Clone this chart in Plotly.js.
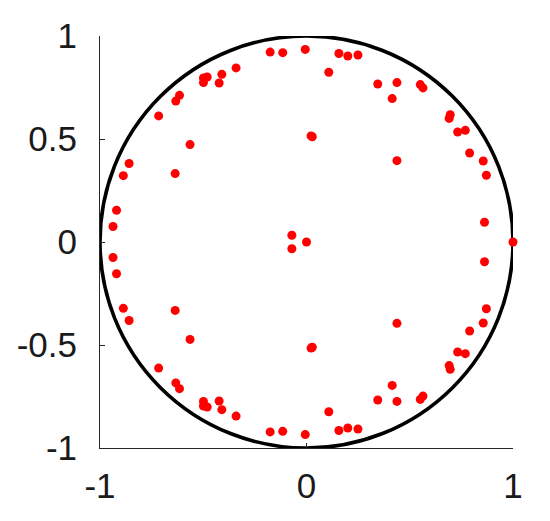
<!DOCTYPE html>
<html>
<head>
<meta charset="utf-8">
<script src="https://cdn.plot.ly/plotly-3.0.1.min.js"></script>
<style>
  html, body { margin: 0; padding: 0; background: #fff; }
  #chart { width: 550px; height: 521px; }
</style>
</head>
<body>
<div id="chart"></div>
<script>
const realUpper = [-0.176, -0.115, -0.006, -0.341, -0.410, -0.423, -0.481, -0.499, -0.499, -0.615,
                   -0.633, -0.716, -0.564, -0.636, -0.859, -0.887, -0.920, -0.937, -0.071, 0.022,
                   0.028, 0.157, 0.200, 0.249, 0.108, 0.345, 0.438, 0.415, 0.551, 0.564,
                   0.696, 0.691, 0.732, 0.769, 0.790, 0.856, 0.871, 0.862, 0.438];
const imagUpper = [0.922, 0.919, 0.935, 0.845, 0.814, 0.772, 0.801, 0.796, 0.774, 0.712,
                   0.684, 0.612, 0.473, 0.332, 0.381, 0.322, 0.154, 0.075, 0.033, 0.515,
                   0.511, 0.915, 0.903, 0.908, 0.824, 0.767, 0.774, 0.696, 0.764, 0.748,
                   0.618, 0.600, 0.534, 0.542, 0.432, 0.393, 0.324, 0.096, 0.395];
const realLower = [-0.176, -0.115, -0.006, -0.341, -0.410, -0.423, -0.481, -0.499, -0.499, -0.615,
                   -0.633, -0.716, -0.564, -0.636, -0.859, -0.887, -0.920, -0.937, -0.071, 0.022,
                   0.028, 0.157, 0.200, 0.249, 0.108, 0.345, 0.438, 0.415, 0.551, 0.564,
                   0.696, 0.691, 0.732, 0.769, 0.790, 0.856, 0.871, 0.862, 0.438];
const imagLower = [-0.922, -0.919, -0.935, -0.845, -0.814, -0.772, -0.801, -0.796, -0.774, -0.712,
                   -0.684, -0.612, -0.473, -0.332, -0.381, -0.322, -0.154, -0.075, -0.033, -0.515,
                   -0.511, -0.915, -0.903, -0.908, -0.824, -0.767, -0.774, -0.696, -0.764, -0.748,
                   -0.618, -0.600, -0.534, -0.542, -0.432, -0.393, -0.324, -0.096, -0.395];
const realAxis = [0, 1];
const imagAxis = [0, 0];

const xTicks = [-1, 0, 1];
const yTicks = [-1, -0.5, 0, 0.5, 1];

const data = [{
    x: realUpper.concat(realLower, realAxis),
    y: imagUpper.concat(imagLower, imagAxis),
    type: 'scatter',
    mode: 'markers',
    marker: { color: '#ff0000', size: 9 },
    cliponaxis: false,
    hoverinfo: 'skip'
}];

const axisStyle = {
    showgrid: false,
    zeroline: false,
    showline: true,
    linecolor: '#262626',
    linewidth: 1,
    ticks: 'inside',
    ticklen: 5,
    tickcolor: '#262626',
    tickfont: { family: 'Liberation Sans, Arial, sans-serif', size: 35, color: '#1a1a1a' },
    mirror: false
};

const layout = {
    width: 550,
    height: 521,
    margin: { l: 100, r: 37, t: 36, b: 73 },
    paper_bgcolor: '#fff',
    plot_bgcolor: '#fff',
    showlegend: false,
    xaxis: Object.assign({}, axisStyle, {
        range: [-1, 1], tickvals: xTicks, ticktext: xTicks.map(String), ticklabelstandoff: 7
    }),
    yaxis: Object.assign({}, axisStyle, {
        range: [-1, 1], tickvals: yTicks, ticktext: yTicks.map(String), ticklabelstandoff: 15
    }),
    shapes: [{
        type: 'circle', xref: 'x', yref: 'y',
        x0: -1, y0: -1, x1: 1, y1: 1,
        line: { color: '#000', width: 3.6 },
        layer: 'below'
    }]
};

Plotly.newPlot('chart', data, layout, { displayModeBar: false, staticPlot: true });
</script>
</body>
</html>
